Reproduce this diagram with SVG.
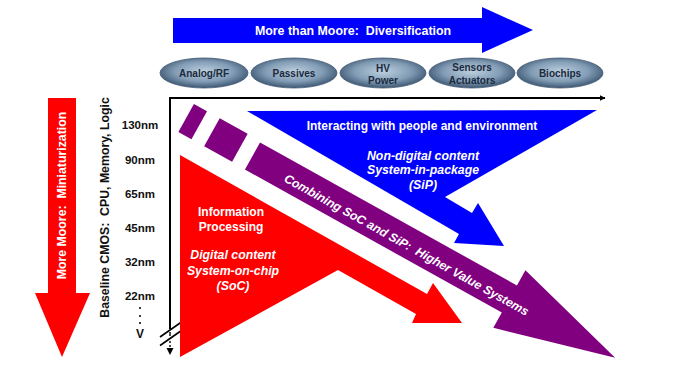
<svg xmlns="http://www.w3.org/2000/svg" width="698" height="374" viewBox="0 0 698 374">
<defs>
<radialGradient id="eg" cx="50%" cy="45%" r="60%">
<stop offset="0" stop-color="#bccfde"/>
<stop offset="0.55" stop-color="#839db6"/>
<stop offset="1" stop-color="#2c4763"/>
</radialGradient>
<marker id="ah" viewBox="0 0 10 10" refX="9" refY="5" markerWidth="6" markerHeight="6" markerUnits="userSpaceOnUse" orient="auto">
<path d="M0,0 L10,5 L0,10 Z" fill="#000"/>
</marker>
</defs>
<style>
text{font-family:"Liberation Sans",Arial,sans-serif;font-weight:bold;white-space:pre;}
.w{fill:#fff;font-size:12px;text-anchor:middle;}
.wi{fill:#fff;font-size:12.3px;text-anchor:middle;font-style:italic;}
.el{fill:#1b2a3d;font-size:10px;text-anchor:middle;}
.nm{fill:#111;font-size:11.5px;text-anchor:middle;}
.ell{fill:url(#eg);stroke:#3d5670;stroke-width:0.8;}
.ax{stroke:#000;stroke-width:2;fill:none;}
</style>
<rect width="698" height="374" fill="#fff"/>

<g id="more-than-moore-arrow">
<polygon points="173,18 482,18 482,7 533,30 482,53 482,43 173,43" fill="#0000ff"/>
<text class="w" x="353" y="35" xml:space="preserve" style="font-size:12.4px">More than Moore:  Diversification</text>
</g>

<g id="analog-rf"><ellipse class="ell" cx="204" cy="73" rx="44" ry="15"/><text class="el" x="204" y="77">Analog/RF</text></g>
<g id="passives"><ellipse class="ell" cx="294" cy="73" rx="43" ry="15"/><text class="el" x="294" y="77">Passives</text></g>
<g id="hv-power"><ellipse class="ell" cx="383" cy="73" rx="43" ry="15"/><text class="el" x="383" y="71.5">HV</text><text class="el" x="383" y="83.5">Power</text></g>
<g id="sensors-actuators"><ellipse class="ell" cx="472" cy="73" rx="43" ry="15"/><text class="el" x="472" y="70.5">Sensors</text><text class="el" x="472" y="83.5">Actuators</text></g>
<g id="biochips"><ellipse class="ell" cx="560" cy="73" rx="43" ry="15"/><text class="el" x="560" y="77">Biochips</text></g>

<g id="more-moore-arrow">
<polygon points="48,98 76,98 76,293 90,293 62,357 35,293 48,293" fill="#ff0000"/>
<text class="w" transform="translate(66,195.5) rotate(-90)" x="0" y="0" xml:space="preserve" style="font-size:12.3px">More Moore:  Miniaturization</text>
</g>

<g id="baseline-cmos">
<text class="nm" transform="translate(109,207.5) rotate(-90)" x="0" y="0" xml:space="preserve" style="font-size:12.3px">Baseline CMOS:  CPU, Memory, Logic</text>
<text class="nm" x="140" y="129">130nm</text>
<text class="nm" x="140" y="164">90nm</text>
<text class="nm" x="140" y="198">65nm</text>
<text class="nm" x="140" y="232">45nm</text>
<text class="nm" x="140" y="266">32nm</text>
<text class="nm" x="140" y="300">22nm</text>
<circle cx="140" cy="308" r="1.1" fill="#111"/>
<circle cx="140" cy="316" r="1.1" fill="#111"/>
<circle cx="140" cy="323" r="1.1" fill="#111"/>
<text class="nm" x="140" y="338" style="font-size:12px">V</text>
</g>

<g id="connectors">
<line class="ax" x1="170" y1="98" x2="605" y2="98" marker-end="url(#ah)"/>
<line class="ax" x1="170" y1="97" x2="170" y2="329"/>
<line x1="160" y1="337" x2="181.5" y2="322" stroke="#000" stroke-width="1.6"/>
<line x1="160" y1="345.5" x2="181.5" y2="330.5" stroke="#000" stroke-width="1.6"/>
<line x1="170" y1="332" x2="170" y2="336" stroke="#000" stroke-width="1.4"/>
<line x1="170" y1="341" x2="170" y2="349" stroke="#000" stroke-width="1.4" stroke-dasharray="2,2"/>
<polygon points="166.5,348 173.5,348 170,355" fill="#000"/>
</g>

<g id="soc-arrow">
<polygon points="180,155 427,294 433,283 462,323 412,323 416,314 338,270 180,357" fill="#ff0000"/>
<text class="w" x="231" y="216">Information</text>
<text class="w" x="231" y="231">Processing</text>
<text class="wi" x="233" y="259">Digital content</text>
<text class="wi" x="233" y="275">System-on-chip</text>
<text class="wi" x="233" y="290">(SoC)</text>
</g>

<g id="sip-arrow">
<polygon points="247,111 597,110 445,197 472,213 478,203 504,246 454,243 459,234" fill="#0000ff"/>
<text class="w" x="422" y="130">Interacting with people and environment</text>
<text class="wi" x="423" y="160">Non-digital content</text>
<text class="wi" x="423" y="174">System-in-package</text>
<text class="wi" x="423" y="189">(SiP)</text>
</g>

<g id="higher-value-arrow">
<g transform="translate(252.5,156) rotate(29.1)" fill="#800080">
<rect x="-76.5" y="-17" width="15" height="32"/>
<rect x="-47" y="-17" width="32" height="32"/>
<polygon points="0,-15.5 294,-15.5 294,-33 415,0 294,33 294,15.5 0,15.5"/>
</g>
<text class="wi" transform="translate(406.5,245) rotate(29.1)" x="0" y="4" xml:space="preserve" style="font-size:12.2px">Combining SoC and SiP:  Higher Value Systems</text>
</g>
</svg>
